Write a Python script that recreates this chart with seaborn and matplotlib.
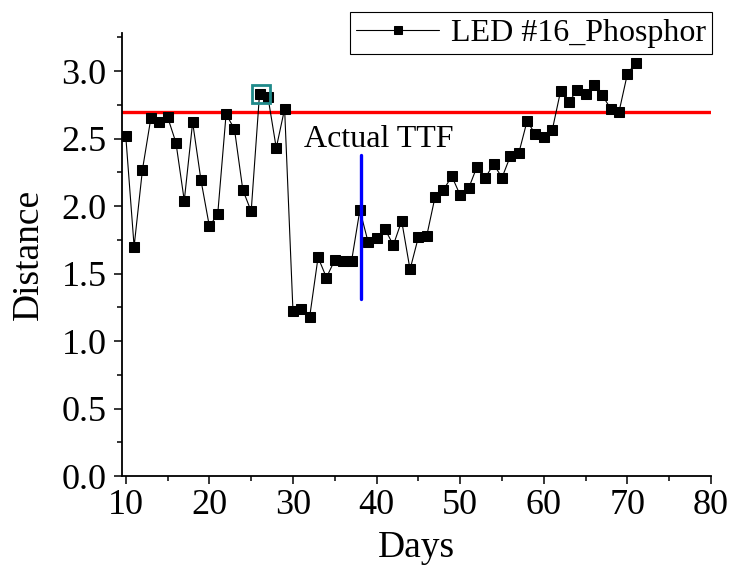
import numpy as np
import pandas as pd
import matplotlib
matplotlib.use("Agg")
import matplotlib.pyplot as plt
import seaborn as sns

# Daily distance measurements for LED #16 (phosphor)
days = list(range(10, 72))
distance = [
    2.52, 1.70, 2.27, 2.65, 2.62, 2.66, 2.47, 2.04, 2.62, 2.19,
    1.85, 1.94, 2.68, 2.57, 2.12, 1.96, 2.83, 2.81, 2.43, 2.72,
    1.22, 1.24, 1.18, 1.62, 1.47, 1.60, 1.59, 1.59, 1.97, 1.73,
    1.76, 1.83, 1.71, 1.89, 1.53, 1.77, 1.78, 2.07, 2.12, 2.22,
    2.08, 2.13, 2.29, 2.21, 2.31, 2.21, 2.37, 2.39, 2.63, 2.53,
    2.51, 2.56, 2.85, 2.77, 2.86, 2.83, 2.90, 2.82, 2.72, 2.70,
    2.98, 3.06,
]
series_label = "LED #16_Phosphor"

threshold = 2.70          # failure threshold (red line)
ttf_day = 38.1            # actual time to failure
ttf_span = [1.31, 2.38]   # vertical extent of the TTF marker
crossing_day = 26.2       # first threshold crossing (highlighted)
crossing_value = 2.83

x_ticks = [10, 20, 30, 40, 50, 60, 70, 80]
y_ticks = [0.0, 0.5, 1.0, 1.5, 2.0, 2.5, 3.0]

sns.set_style("ticks")
plt.rcParams["font.family"] = ["Liberation Serif", "DejaVu Serif"]
plt.rcParams["text.color"] = "black"
plt.rcParams["axes.labelcolor"] = "black"
plt.rcParams["xtick.color"] = "black"
plt.rcParams["ytick.color"] = "black"

df = pd.DataFrame({"Days": days, "Distance": distance})

fig = plt.figure(figsize=(7.36, 5.65), dpi=100)
ax = fig.add_axes([0.1654, 0.1575, 0.8007, 0.7837])

sns.lineplot(data=df, x="Days", y="Distance", ax=ax, color="black",
             linewidth=0.8, marker="s", markersize=7.5,
             markerfacecolor="black", markeredgecolor="black",
             label=series_label, zorder=3)

ax.axhline(threshold, color="#ff0000", linewidth=2.4, zorder=2)
ax.plot([ttf_day, ttf_day], ttf_span, color="#0000ff", linewidth=2.4, zorder=4)
ax.text(40.2, 2.44, "Actual TTF", fontsize=23, ha="center", va="baseline")
ax.plot([crossing_day], [crossing_value], marker="s", markersize=13,
        markerfacecolor="none", markeredgecolor="#1f8a8a",
        markeredgewidth=2.0, zorder=5)

ax.set_xlim(9.52, 80)
ax.set_ylim(0, 3.28)
ax.set_xticks(x_ticks)
ax.set_yticks(y_ticks)
ax.set_yticklabels([f"{v:.1f}" for v in y_ticks])
ax.set_xticks(np.arange(15, 80, 10), minor=True)
ax.set_yticks(np.arange(0.25, 3.3, 0.5), minor=True)
ax.tick_params(axis="both", which="major", direction="out", length=6,
               width=1.1, labelsize=26, colors="black")
ax.tick_params(axis="y", which="major", pad=5)
ax.tick_params(axis="both", which="minor", direction="out", length=3.5,
               width=1.1)
ax.set_xlabel("Days", fontsize=27, labelpad=6)
ax.set_ylabel("Distance", fontsize=27, labelpad=11)
for side in ("top", "right"):
    ax.spines[side].set_visible(False)
for side in ("left", "bottom"):
    ax.spines[side].set_linewidth(1.3)
    ax.spines[side].set_color("black")

leg = ax.legend(loc="upper right", bbox_to_anchor=(0.9674, 0.9788),
                bbox_transform=fig.transFigure, fontsize=23, frameon=True,
                fancybox=False, framealpha=1, edgecolor="black",
                handlelength=2.6, borderpad=0.2, handletextpad=0.35,
                borderaxespad=0, markerscale=0.8)
leg.get_frame().set_linewidth(0.8)

fig.savefig("out.png", dpi=100)
